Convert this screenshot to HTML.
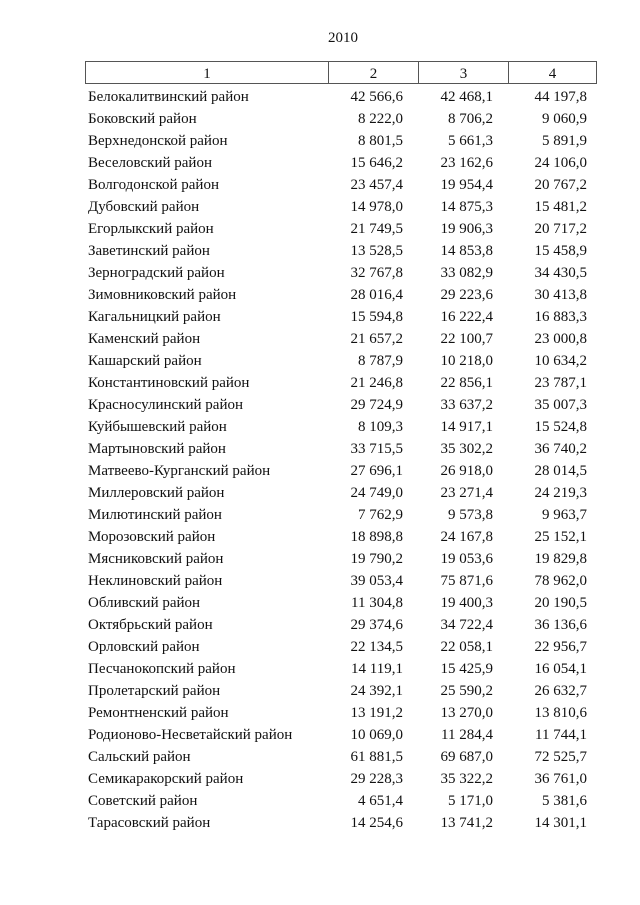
<!DOCTYPE html>
<html><head><meta charset="utf-8"><style>
body{margin:0;width:640px;height:905px;background:#fff;position:relative;font-family:"Liberation Serif",serif;font-size:15px;color:#111}
.t{position:absolute;white-space:nowrap;line-height:16px}
.hb{position:absolute;top:61px;height:23px;border:1px solid #555;box-sizing:border-box}
</style></head><body>
<div class="t" style="left:0;width:686px;text-align:center;top:30px">2010</div>
<div class="hb" style="left:85px;width:244px"></div>
<div class="hb" style="left:328px;width:91px"></div>
<div class="hb" style="left:418px;width:91px"></div>
<div class="hb" style="left:508px;width:89px"></div>
<div class="t" style="left:85px;width:244px;text-align:center;top:66px">1</div>
<div class="t" style="left:328px;width:91px;text-align:center;top:66px">2</div>
<div class="t" style="left:418px;width:91px;text-align:center;top:66px">3</div>
<div class="t" style="left:508px;width:89px;text-align:center;top:66px">4</div>
<div id="rows"></div>
<script>
var d=[["Белокалитвинский район","42 566,6","42 468,1","44 197,8"],["Боковский район","8 222,0","8 706,2","9 060,9"],["Верхнедонской район","8 801,5","5 661,3","5 891,9"],["Веселовский район","15 646,2","23 162,6","24 106,0"],["Волгодонской район","23 457,4","19 954,4","20 767,2"],["Дубовский район","14 978,0","14 875,3","15 481,2"],["Егорлыкский район","21 749,5","19 906,3","20 717,2"],["Заветинский район","13 528,5","14 853,8","15 458,9"],["Зерноградский район","32 767,8","33 082,9","34 430,5"],["Зимовниковский район","28 016,4","29 223,6","30 413,8"],["Кагальницкий район","15 594,8","16 222,4","16 883,3"],["Каменский район","21 657,2","22 100,7","23 000,8"],["Кашарский район","8 787,9","10 218,0","10 634,2"],["Константиновский район","21 246,8","22 856,1","23 787,1"],["Красносулинский район","29 724,9","33 637,2","35 007,3"],["Куйбышевский район","8 109,3","14 917,1","15 524,8"],["Мартыновский район","33 715,5","35 302,2","36 740,2"],["Матвеево-Курганский район","27 696,1","26 918,0","28 014,5"],["Миллеровский район","24 749,0","23 271,4","24 219,3"],["Милютинский район","7 762,9","9 573,8","9 963,7"],["Морозовский район","18 898,8","24 167,8","25 152,1"],["Мясниковский район","19 790,2","19 053,6","19 829,8"],["Неклиновский район","39 053,4","75 871,6","78 962,0"],["Обливский район","11 304,8","19 400,3","20 190,5"],["Октябрьский район","29 374,6","34 722,4","36 136,6"],["Орловский район","22 134,5","22 058,1","22 956,7"],["Песчанокопский район","14 119,1","15 425,9","16 054,1"],["Пролетарский район","24 392,1","25 590,2","26 632,7"],["Ремонтненский район","13 191,2","13 270,0","13 810,6"],["Родионово-Несветайский район","10 069,0","11 284,4","11 744,1"],["Сальский район","61 881,5","69 687,0","72 525,7"],["Семикаракорский район","29 228,3","35 322,2","36 761,0"],["Советский район","4 651,4","5 171,0","5 381,6"],["Тарасовский район","14 254,6","13 741,2","14 301,1"]];
var h="";d.forEach(function(r,i){var y=89+22*i;
h+='<div class="t" style="left:88px;top:'+y+'px">'+r[0]+'</div>';
h+='<div class="t" style="right:'+(640-403)+'px;top:'+y+'px">'+r[1]+'</div>';
h+='<div class="t" style="right:'+(640-493)+'px;top:'+y+'px">'+r[2]+'</div>';
h+='<div class="t" style="right:'+(640-587)+'px;top:'+y+'px">'+r[3]+'</div>';});
document.getElementById("rows").innerHTML=h;
</script>
</body></html>
